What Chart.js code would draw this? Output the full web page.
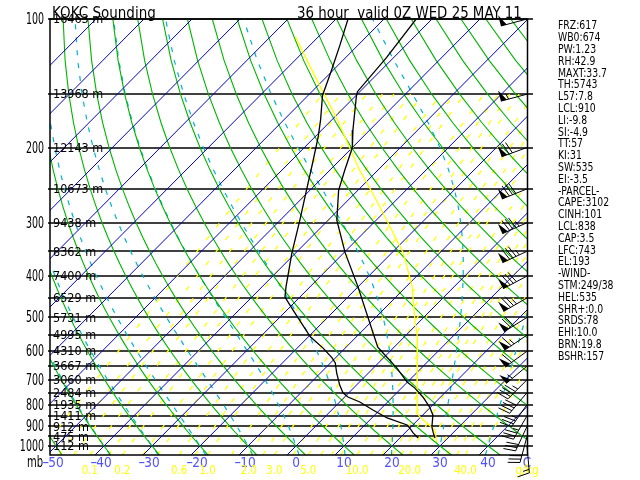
<!DOCTYPE html>
<html>
<head>
<meta charset="utf-8">
<script src="https://cdn.jsdelivr.net/npm/chart.js@4.4.1/dist/chart.umd.min.js"></script>
<style>
html, body { margin: 0; padding: 0; background: #fff; }
canvas { display: block; }
</style>
</head>
<body>
<canvas id="skewt" width="640" height="480"></canvas>
<script>
// sounding (mb, degC)
const tempPres = [100, 123, 148, 152, 182, 200, 226, 252, 296, 353, 424, 544, 587, 619, 657, 708, 732, 768, 811, 846, 903, 932, 958]
const tempVals = [-63.3, -61.5, -60.5, -59.7, -53.5, -50.0, -46.9, -44.0, -38.2, -29.7, -20.0, -7.3, -3.4, 0.5, 4.9, 9.9, 12.8, 16.3, 19.8, 22.1, 24.4, 25.9, 27.3]
const dewPres = [100, 115, 132, 151, 172, 189, 218, 252, 296, 353, 424, 448, 480, 555, 590, 622, 639, 675, 720, 751, 768, 789, 824, 860, 893, 908, 932, 958]
const dewVals = [-77.5, -73.8, -70.3, -67.0, -62.4, -59.3, -55.0, -50.7, -45.9, -40.8, -35.0, -33.1, -28.8, -19.6, -14.6, -10.7, -9.0, -6.6, -3.5, -1.2, 0.7, 4.2, 8.6, 13.2, 18.8, 20.0, 21.7, 23.8]
const parcelPres = [110, 144, 172, 200, 226, 256, 296, 353, 424, 507, 555, 837, 855, 917, 979]
const parcelVals = [-84.8, -69.3, -58.9, -50.6, -43.8, -36.3, -27.8, -17.6, -8.7, -1.3, 2.7, 18.4, 19.8, 25.6, 28.5]

// levels, heights
const levels = [100, 150, 200, 250, 300, 350, 400, 450, 500, 550, 600, 650, 700, 750, 800, 850, 900, 950, 1000]
const heights = ['16463', '13968', '12143', '10673', '9438', '8362', '7400', '6529', '5731', '4995', '4310', '3667', '3060', '2484', '1935', '1411', '912', '475', '112']
const presLabels = [100, 200, 300, 400, 500, 600, 700, 800, 900, 1000]

// winds (deg, kt) at each level
const windDir = [255, 255, 250, 248, 246, 245, 242, 240, 238, 236, 234, 230, 225, 220, 215, 210, 205, 195, 175]
const windSpd = [50, 55, 70, 80, 85, 85, 80, 75, 70, 65, 60, 55, 45, 40, 35, 35, 30, 30, 15]

// background lines
const isotherms = [-140, -130, -120, -110, -100, -90, -80, -70, -60, -50, -40, -30, -20, -10, 0, 10, 20, 30, 40, 50]
const dryThetas = [-50, -40, -30, -20, -10, 0, 10, 20, 30, 40, 50, 60, 70, 80, 90, 100, 110, 120, 130, 140, 150, 160, 170, 180]
const moistThetas = [-40, -30, -20, -10, 0, 10, 20, 30, 40]
const mixRatios = [0.03, 0.05, 0.07, 0.1, 0.15, 0.2, 0.3, 0.4, 0.6, 0.8, 1, 1.5, 2, 2.5, 3, 4, 5, 6, 7, 8, 10, 12, 14, 16, 18, 20, 24, 28, 32, 36, 40, 48]
const mixTop = 150
const tempLabels = [-50, -40, -30, -20, -10, 0, 10, 20, 30, 40]
const mixLabels = ['0.1', '0.2', '0.6', '1.0', '2.0', '3.0', '5.0', '10.0', '20.0', '40.0']

const infoLines = ['FRZ:617', 'WB0:674', 'PW:1.23', 'RH:42.9', 'MAXT:33.7', 'TH:5743', 'L57:7.8', 'LCL:910',
  'LI:-9.8', 'SI:-4.9', 'TT:57', 'KI:31', 'SW:535', 'EI:-3.5', '-PARCEL-', 'CAPE:3102', 'CINH:101',
  'LCL:838', 'CAP:3.5', 'LFC:743', 'EL:193', '-WIND-', 'STM:249/38', 'HEL:535', 'SHR+:0.0', 'SRDS:78',
  'EHI:10.0', 'BRN:19.8', 'BSHR:157']

const SKEW = 88.33
const XMIN = -51.25, XMAX = 48.33
const PBOT = 1050, PTOP = 100
const FONT = '"DejaVu Sans Condensed", "DejaVu Sans", sans-serif'

function sx(T, p) { return T + SKEW * Math.log10(1000 / p) }
function pt(T, p) { return {x: sx(T, p), y: p} }

function pSteps(step, top) {
  let out = [PBOT]
  for (let p = 1000; p >= (top || PTOP); p -= step) out.push(p)
  return out
}

function satVap(T) { return 6.112 * Math.exp(17.67 * T / (T + 243.5)) }

function dewFromMix(w, p) {
  const l = Math.log(w * p / (622 + w) / 6.112)
  return 243.5 * l / (17.67 - l)
}

function dryLine(theta) {
  return pSteps(25).map(p => pt((theta + 273.15) * Math.pow(p / 1000, 0.2857) - 273.15, p))
}

function moistLapse(p, TK) {
  const Rd = 287.04, cp = 1005.7, Lv = 2.501e6, eps = 0.622
  const es = satVap(TK - 273.15)
  const rs = eps * es / (p - es)
  return (1 / p) * (Rd * TK + Lv * rs) / (cp + Lv * Lv * rs * eps / (Rd * TK * TK))
}

function moistLine(tw) {
  let pts = []
  let T = tw + 273.15
  let Tb = T
  for (let p = 1000; p < PBOT; p += 5) Tb += moistLapse(p + 2.5, Tb) * 5
  pts.push(pt(Tb - 273.15, PBOT))
  pts.push(pt(T - 273.15, 1000))
  for (let p = 1000; p > PTOP; p -= 5) {
    const k1 = moistLapse(p, T)
    const k2 = moistLapse(p - 2.5, T - k1 * 2.5)
    T -= k2 * 5
    if ((p - 5) % 25 === 0) pts.push(pt(T - 273.15, p - 5))
  }
  return pts
}

function mixLine(w) {
  return pSteps(25, mixTop).map(p => pt(dewFromMix(w, p), p))
}

function lineSet(list, fn, color, width, dash, order) {
  return list.map(v => ({
    data: fn(v), borderColor: color, borderWidth: width, borderDash: dash,
    pointRadius: 0, showLine: true, tension: 0, order: order
  }))
}

const datasets = [
  {data: tempPres.map((p, i) => pt(tempVals[i], p)), borderColor: '#000', borderWidth: 1.3, pointRadius: 0, showLine: true, order: 0},
  {data: dewPres.map((p, i) => pt(dewVals[i], p)), borderColor: '#000', borderWidth: 1.3, pointRadius: 0, showLine: true, order: 0},
  {data: parcelPres.map((p, i) => pt(parcelVals[i], p)), borderColor: '#ffff00', borderWidth: 1.3, pointRadius: 0, showLine: true, order: 1},
  ...lineSet(isotherms, T => [pt(T, PBOT), pt(T, PTOP)], '#0000c0', 1, [], 2),
  ...lineSet(dryThetas, dryLine, '#00b400', 1.1, [], 3),
  ...lineSet(moistThetas, moistLine, '#00b4c8', 1.2, [5, 8], 4),
  ...lineSet(mixRatios, mixLine, '#ffff00', 1.3, [5, 11], 5),
]

// text with optional horizontal squeeze, the original uses a narrow stroke font
function text(ctx, s, x, y, size, align, squeeze) {
  ctx.save()
  ctx.font = size + 'px ' + FONT
  ctx.textAlign = align
  ctx.translate(x, y)
  ctx.scale(squeeze || 1, 1)
  ctx.fillText(s, 0, 0)
  ctx.restore()
}

function drawBarb(ctx, x, y, dir, spd) {
  const r = dir * Math.PI / 180
  const ux = Math.sin(r), uy = -Math.cos(r)
  const px = -uy, py = ux
  const L = 27
  ctx.beginPath()
  ctx.moveTo(x, y)
  ctx.lineTo(x + ux * L, y + uy * L)
  ctx.stroke()
  let s = Math.round(spd / 5) * 5
  let pos = L
  while (s >= 50) {
    ctx.beginPath()
    ctx.moveTo(x + ux * pos, y + uy * pos)
    ctx.lineTo(x + ux * pos + px * 11, y + uy * pos + py * 11)
    ctx.lineTo(x + ux * (pos - 6), y + uy * (pos - 6))
    ctx.closePath()
    ctx.fill()
    pos -= 8
    s -= 50
  }
  while (s >= 10) {
    ctx.beginPath()
    ctx.moveTo(x + ux * pos, y + uy * pos)
    ctx.lineTo(x + ux * (pos + 3) + px * 12, y + uy * (pos + 3) + py * 12)
    ctx.stroke()
    pos -= 3.5
    s -= 10
  }
  if (s >= 5) {
    ctx.beginPath()
    ctx.moveTo(x + ux * pos, y + uy * pos)
    ctx.lineTo(x + ux * (pos + 1.5) + px * 6, y + uy * (pos + 1.5) + py * 6)
    ctx.stroke()
  }
}

const frame = {
  id: 'frame',
  beforeDatasetsDraw(chart) {
    const {ctx, chartArea: a, scales: {y}} = chart
    ctx.save()
    ctx.strokeStyle = '#000'
    ctx.lineWidth = 1.5
    levels.forEach(p => {
      const yy = Math.round(y.getPixelForValue(p))
      ctx.beginPath()
      ctx.moveTo(a.left - 2, yy)
      ctx.lineTo(a.right + 5, yy)
      ctx.stroke()
    })
    ctx.restore()
  },
  afterDraw(chart) {
    const {ctx, chartArea: a, scales: {x, y}} = chart
    ctx.save()
    ctx.strokeStyle = '#000'
    ctx.lineWidth = 1.5
    ctx.strokeRect(a.left, a.top, a.right - a.left - 0.5, a.bottom - a.top)

    ctx.fillStyle = '#000'
    ctx.textBaseline = 'middle'
    // height labels
    levels.forEach((p, i) => text(ctx, heights[i] + ' m', a.left + 3, y.getPixelForValue(p) + 1, 12.5, 'left'))
    // pressure labels
    presLabels.forEach(p => text(ctx, String(p), a.left - 6, y.getPixelForValue(p) + 1, 15.5, 'right', 0.68))
    text(ctx, 'mb', a.left - 7, a.bottom + 8, 15, 'right', 0.74)

    // temperature labels
    ctx.fillStyle = '#5050ff'
    tempLabels.forEach(t => {
      const xx = x.getPixelForValue(t)
      const digits = String(Math.abs(t))
      text(ctx, digits, xx, a.bottom + 8, 13.5, 'center')
      if (t < 0) {
        ctx.font = '13.5px ' + FONT
        const w = ctx.measureText(digits).width
        text(ctx, '-', xx - w / 2 + 1, a.bottom + 8, 13.5, 'right', 1.6)
      }
    })
    text(ctx, 'C', a.right - 1, a.bottom + 8, 13.5, 'center')

    // mixing ratio labels
    ctx.fillStyle = '#ffff00'
    mixLabels.forEach(m => {
      const xx = x.getPixelForValue(sx(dewFromMix(parseFloat(m), PBOT), PBOT))
      text(ctx, m, xx, a.bottom + 16, 12.5, 'center', 0.9)
    })
    text(ctx, 'g/kg', a.right - 1, a.bottom + 16, 12.5, 'center', 0.95)

    // title
    ctx.fillStyle = '#000'
    ctx.textBaseline = 'alphabetic'
    text(ctx, 'KOKC Sounding', 52, 18, 15, 'left')
    text(ctx, '36 hour  valid 0Z WED 25 MAY 11', 297, 18, 15, 'left', 0.99)

    // index panel
    ctx.textBaseline = 'middle'
    infoLines.forEach((s, i) => text(ctx, s, 558, 26.5 + i * 11.8, 11.5, 'left', 0.9))

    // wind barbs
    ctx.lineWidth = 1
    levels.forEach((p, i) => drawBarb(ctx, a.right - 1, y.getPixelForValue(p), windDir[i], windSpd[i]))
    ctx.restore()
  }
}

new Chart(document.getElementById('skewt'), {
  type: 'scatter',
  data: {datasets: datasets},
  options: {
    responsive: false,
    animation: false,
    events: [],
    layout: {padding: {left: 50, right: 112, top: 19, bottom: 25}},
    plugins: {legend: {display: false}, tooltip: {enabled: false}},
    scales: {
      x: {type: 'linear', min: XMIN, max: XMAX, display: false},
      y: {type: 'logarithmic', min: PTOP, max: PBOT, reverse: true, display: false}
    }
  },
  plugins: [frame]
})
</script>
</body>
</html>
